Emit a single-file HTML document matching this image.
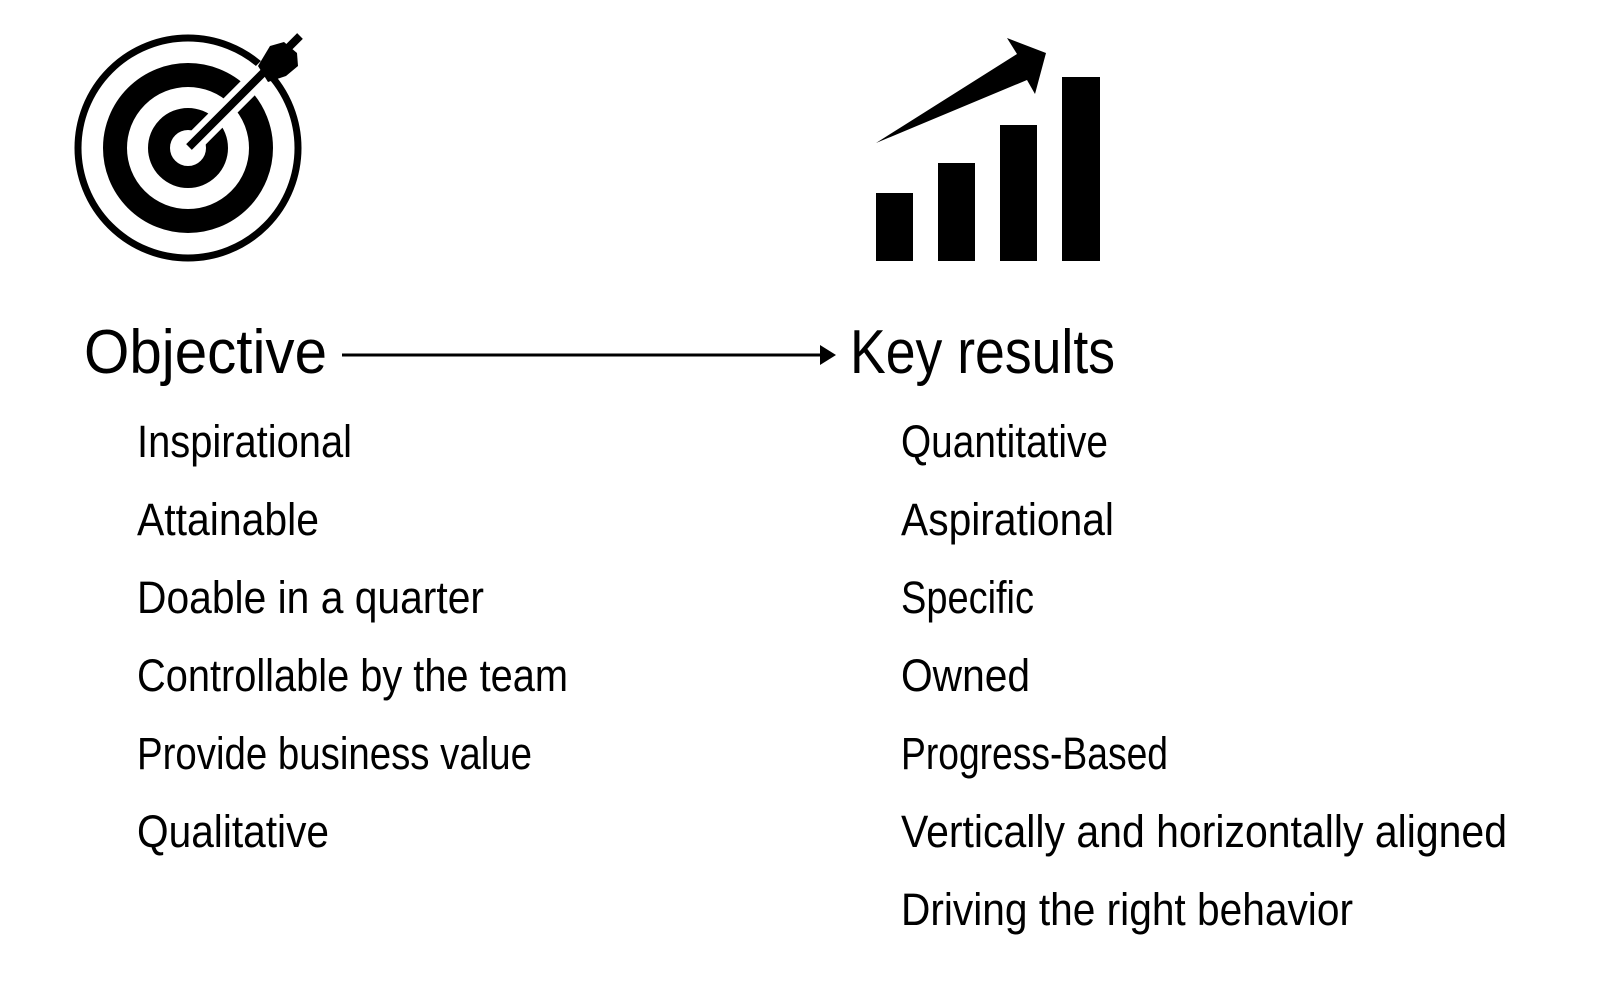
<!DOCTYPE html>
<html><head><meta charset="utf-8"><style>
html,body{margin:0;padding:0;background:#fff;}
svg{display:block;}
text{font-family:"Liberation Sans",sans-serif;fill:#000;}
</style></head><body>
<svg width="1600" height="987" viewBox="0 0 1600 987" xmlns="http://www.w3.org/2000/svg">
<!-- target -->
<circle cx="188" cy="148" r="110" fill="none" stroke="#000" stroke-width="7"/>
<circle cx="188" cy="148" r="73" fill="none" stroke="#000" stroke-width="24"/>
<circle cx="188" cy="148" r="29" fill="none" stroke="#000" stroke-width="22"/>
<line x1="190" y1="146" x2="295" y2="41" stroke="#fff" stroke-width="20"/>
<line x1="189" y1="147" x2="300" y2="36" stroke="#000" stroke-width="8"/>
<path d="M258 66 L270 46 L284 42 L297 53 L298 66 L286 76 L268 82 Z" fill="#000"/>
<!-- chart -->
<path d="M876 143 L1017 54 L1007 38 L1046 53 L1035 94 L1027 80 Z" fill="#000"/>
<rect x="876" y="193" width="37" height="68" fill="#000"/>
<rect x="938" y="163" width="37" height="98" fill="#000"/>
<rect x="1000" y="125" width="37" height="136" fill="#000"/>
<rect x="1062" y="77" width="38" height="184" fill="#000"/>
<!-- headings -->
<text x="84" y="373" font-size="62" textLength="243" lengthAdjust="spacingAndGlyphs">Objective</text>
<line x1="342" y1="355" x2="822" y2="355" stroke="#000" stroke-width="3"/>
<path d="M820 345 L836 355 L820 365 Z" fill="#000"/>
<text x="850" y="373" font-size="62" textLength="265" lengthAdjust="spacingAndGlyphs">Key results</text>
<g font-size="45">
<text x="137" y="457" textLength="215" lengthAdjust="spacingAndGlyphs">Inspirational</text>
<text x="137" y="535" textLength="182" lengthAdjust="spacingAndGlyphs">Attainable</text>
<text x="137" y="613" textLength="347" lengthAdjust="spacingAndGlyphs">Doable in a quarter</text>
<text x="137" y="691" textLength="431" lengthAdjust="spacingAndGlyphs">Controllable by the team</text>
<text x="137" y="769" textLength="395" lengthAdjust="spacingAndGlyphs">Provide business value</text>
<text x="137" y="847" textLength="192" lengthAdjust="spacingAndGlyphs">Qualitative</text>
<text x="901" y="457" textLength="207" lengthAdjust="spacingAndGlyphs">Quantitative</text>
<text x="901" y="535" textLength="213" lengthAdjust="spacingAndGlyphs">Aspirational</text>
<text x="901" y="613" textLength="133" lengthAdjust="spacingAndGlyphs">Specific</text>
<text x="901" y="691" textLength="129" lengthAdjust="spacingAndGlyphs">Owned</text>
<text x="901" y="769" textLength="267" lengthAdjust="spacingAndGlyphs">Progress-Based</text>
<text x="901" y="847" textLength="606" lengthAdjust="spacingAndGlyphs">Vertically and horizontally aligned</text>
<text x="901" y="925" textLength="452" lengthAdjust="spacingAndGlyphs">Driving the right behavior</text>
</g>
</svg>
</body></html>
